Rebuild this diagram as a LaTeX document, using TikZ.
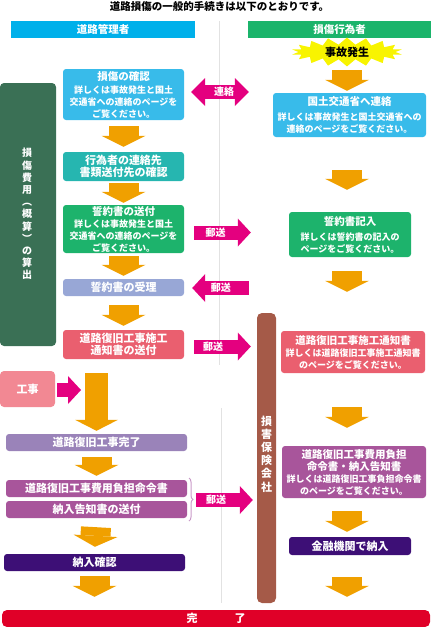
\documentclass[tikz,border=0pt]{standalone}
\usepackage{fontspec}
\newfontfamily\jp{Noto Sans CJK JP}
\usetikzlibrary{arrows.meta,shapes.symbols,decorations.pathreplacing}
\definecolor{hdcyan}{HTML}{00B0EA}
\definecolor{hdgreen}{HTML}{1BB46B}
\definecolor{bcyan}{HTML}{38BBEA}
\definecolor{bteal}{HTML}{26B6B0}
\definecolor{bgreen}{HTML}{1DB36C}
\definecolor{blav}{HTML}{98A7D6}
\definecolor{bred}{HTML}{EA5F6F}
\definecolor{bpink}{HTML}{F28893}
\definecolor{bpurp}{HTML}{9A83B9}
\definecolor{bmag}{HTML}{A8559B}
\definecolor{bdark}{HTML}{3D0F76}
\definecolor{bend}{HTML}{E00028}
\definecolor{bdgreen}{HTML}{3A7055}
\definecolor{bbrown}{HTML}{A55A48}
\definecolor{orA}{HTML}{F0A000}
\definecolor{magA}{HTML}{E4007F}
\definecolor{starY}{HTML}{F8F400}
\definecolor{braceC}{HTML}{C99AC8}
\definecolor{divG}{HTML}{E2E2E2}
\newcommand\detl[1]{{\fontsize{9}{11}\selectfont #1}}
\newcommand\boxhd[1]{{\fontsize{10.5}{11}\selectfont #1}}
\tikzset{
  bx/.style={rounded corners=3pt, inner sep=0pt, text=white, align=center,
    font=\jp\bfseries\fontsize{11}{12}\selectfont},
  oarr/.style={draw=orA, line width=30pt, -{Triangle[width=44pt,length=11pt,line width=0pt]}},
  obig/.style={draw=orA, line width=23pt, -{Triangle[width=43pt,length=11pt,line width=0pt]}},
  marr/.style={draw=magA, line width=14pt, -{Triangle[width=28pt,length=13pt,line width=0pt]}},
  mdbl/.style={draw=magA, line width=14pt, {Triangle[width=28pt,length=14pt,line width=0pt]}-{Triangle[width=28pt,length=14pt,line width=0pt]}},
  mlab/.style={text=white, font=\jp\bfseries\fontsize{10}{11}\selectfont, inner sep=0pt},
  vtext/.style={text=white, align=center, inner sep=0pt},
}
\begin{document}
\begin{tikzpicture}[x=1pt,y=-1pt]
\useasboundingbox (0,0) rectangle (431,627);
% title
\node[font=\jp\bfseries\fontsize{10.5}{11}\selectfont, inner sep=0pt] (title) at (219.5,7) {道路損傷の一般的手続きは以下のとおりです。};
% divider
\draw[divG, line width=0.8pt] (219.5,21) -- (219.5,365);
\draw[divG, line width=0.8pt] (221.5,408) -- (221.5,603);
% headers
\node[fill=hdcyan, minimum width=184pt, minimum height=17pt, inner sep=0pt, text=white, font=\jp\bfseries\fontsize{10.5}{11}\selectfont] (HL) at (103,29.5) {道路管理者};
\node[fill=hdgreen, minimum width=183pt, minimum height=17pt, inner sep=0pt, text=white, font=\jp\bfseries\fontsize{10.5}{11}\selectfont] (HR) at (339.5,29.5) {損傷行為者};
% left green bar
\node[bx, fill=bdgreen, rounded corners=4pt, minimum width=56pt, minimum height=263pt] (G) at (28,214.5) {};
\node[vtext, font=\jp\bfseries\fontsize{10}{12.2}\selectfont] (GT) at (27,214) {損\\傷\\費\\用\\︵\\概\\算\\︶\\の\\算\\出};
% brown bar
\node[bx, fill=bbrown, rounded corners=5pt, minimum width=19pt, minimum height=290pt] (B) at (266.5,458) {};
\node[vtext, font=\jp\bfseries\fontsize{11}{13.2}\selectfont] (BT) at (266.5,454) {損\\害\\保\\険\\会\\社};
% start
\node[starburst, fill=starY, draw=none, minimum width=111pt, minimum height=22pt, starburst points=18, starburst point height=7pt, random starburst=0, inner sep=0pt, font=\jp\bfseries\fontsize{11}{12}\selectfont] (S) at (347,52) {事故発生};
% left column
\node[bx, fill=bcyan, minimum width=121pt, minimum height=51pt] (L1) at (123.5,94.5) {\boxhd{損傷の確認}\\[1pt]\detl{詳しくは事故発生と国土}\\\detl{交通省への連絡のページを}\\\detl{ご覧ください。}};
\node[bx, fill=bteal, minimum width=121pt, minimum height=29pt] (L2) at (123.5,166.5) {行為者の連絡先\\書類送付先の確認};
\node[bx, fill=bgreen, minimum width=121pt, minimum height=48pt] (L3) at (123.5,229) {\boxhd{誓約書の送付}\\\detl{詳しくは事故発生と国土}\\\detl{交通省への連絡のページを}\\\detl{ご覧ください。}};
\node[bx, fill=blav, minimum width=121pt, minimum height=17pt] (L4) at (123.5,287.5) {誓約書の受理};
\node[bx, fill=bred, minimum width=121pt, minimum height=29pt] (L5) at (123.5,344.5) {道路復旧工事施工\\通知書の送付};
\node[bx, fill=bpink, rounded corners=4pt, minimum width=55pt, minimum height=36pt] (K) at (27.5,389) {工事};
\node[bx, fill=bpurp, minimum width=181pt, minimum height=17pt] (L6) at (96.5,442.5) {道路復旧工事完了};
\node[bx, fill=bmag, minimum width=181pt, minimum height=17pt] (L7) at (96.5,488.5) {道路復旧工事費用負担命令書};
\node[bx, fill=bmag, minimum width=181pt, minimum height=17pt] (L8) at (96.5,509.5) {納入告知書の送付};
\node[bx, fill=bdark, minimum width=181pt, minimum height=17pt] (L9) at (94.5,562.5) {納入確認};
\node[bx, fill=bend, rounded corners=5pt, minimum width=428pt, minimum height=17pt] (END) at (216,618.5) {完\hspace{37pt}了};
% right column
\node[bx, fill=bcyan, minimum width=153pt, minimum height=44pt] (R1) at (349.5,115) {\boxhd{国土交通省へ連絡}\\[3pt]\detl{詳しくは事故発生と国土交通省への}\\\detl{連絡のページをご覧ください。}};
\node[bx, fill=bgreen, minimum width=122pt, minimum height=45pt] (R2) at (350,234.5) {\boxhd{誓約書記入}\\[3pt]\detl{詳しくは誓約書の記入の}\\\detl{ページをご覧ください。}};
\node[bx, fill=bred, minimum width=144pt, minimum height=42pt] (R3) at (353,352) {\boxhd{道路復旧工事施工通知書}\\\detl{詳しくは道路復旧工事施工通知書}\\\detl{のページをご覧ください。}};
\node[bx, fill=bmag, minimum width=144pt, minimum height=52pt] (R4) at (354,472) {\boxhd{道路復旧工事費用負担}\\\boxhd{命令書・納入告知書}\\\detl{詳しくは道路復旧工事負担命令書}\\\detl{のページをご覧ください。}};
\node[bx, fill=bdark, minimum width=122pt, minimum height=18pt] (R5) at (350,546) {金融機関で納入};
% brace
\coordinate (br1) at (189,478);
\coordinate (br2) at (189,521);
\draw[braceC, line width=1pt, decorate, decoration={brace, amplitude=4pt}] (br1) -- (br2);
% orange arrows left
\draw[oarr, shorten <=6pt, shorten >=5pt] (L1.south) -- (L2.north);
\draw[oarr, shorten <=2pt, shorten >=2pt] (L2.south) -- (L3.north);
\draw[oarr, shorten <=3pt, shorten >=3pt] (L3.south) -- (L4.north);
\draw[oarr, shorten <=9pt, shorten >=4pt] (L4.south) -- (L5.north);
\draw[obig, shorten <=14pt, shorten >=3pt] (L6.north |- L5.south) -- (L6.north);
\draw[oarr, shorten <=6pt, shorten >=4pt] (L6.south) -- (L7.north);
\draw[oarr, shorten <=9pt, shorten >=7pt] (L8.south) -- (L9.north);
\draw[oarr, shorten <=5pt, shorten >=13pt] (L9.south) -- (L9.south |- END.north);
% orange arrows right
\draw[oarr, shorten <=18pt, shorten >=2pt] (S.center) -- (S.center |- R1.north);
\draw[oarr, shorten <=33pt, shorten >=22pt] (S.center |- R1.south) -- (S.center |- R2.north);
\draw[oarr, shorten <=14pt, shorten >=39pt] (S.center |- R2.south) -- (S.center |- R3.north);
\draw[oarr, shorten <=34pt, shorten >=18pt] (S.center |- R3.south) -- (S.center |- R4.north);
\draw[oarr, shorten <=13pt, shorten >=5pt] (S.center |- R4.south) -- (S.center |- R5.north);
\draw[oarr, shorten <=22pt, shorten >=13pt] (S.center |- R5.south) -- (S.center |- END.north);
% magenta arrows
\coordinate (y1) at (0,92);
\coordinate (y2) at (0,232.5);
\coordinate (y3) at (0,288);
\coordinate (y4) at (0,346.5);
\coordinate (y5) at (0,500);
\coordinate (kend) at (81,390);
\draw[mdbl, shorten <=7pt, shorten >=24pt] (L1.east |- y1) -- (R1.west |- y1) node[mlab, pos=0.45] {連絡};
\draw[marr, shorten <=10pt, shorten >=38pt] (L3.east |- y2) -- (R2.west |- y2) node[mlab, pos=0.3] {郵送};
\draw[marr, shorten <=40pt, shorten >=8pt] (R2.west |- y3) -- (L4.east |- y3) node[mlab, pos=0.65] {郵送};
\draw[marr, shorten <=10pt, shorten >=30pt] (L5.east |- y4) -- (R3.west |- y4) node[mlab, pos=0.3] {郵送};
\draw[marr, shorten <=7pt, shorten >=4pt] (br1 |- y5) -- (B.west |- y5) node[mlab, pos=0.4] {郵送};
\draw[marr, shorten <=2pt] (K.east |- kend) -- (kend);
\end{tikzpicture}
\end{document}
